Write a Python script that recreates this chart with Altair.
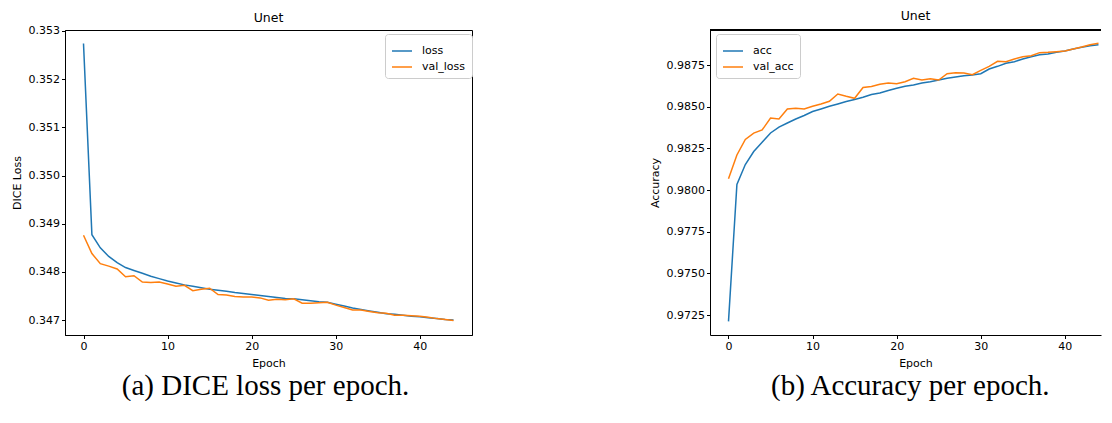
import altair as alt
import pandas as pd

epochs = list(range(45))

loss = [0.35274, 0.34877, 0.34850, 0.34832, 0.34819, 0.34809, 0.34803, 0.34797, 0.34791, 0.34786,
        0.34781, 0.34777, 0.34773, 0.34770, 0.34767, 0.34764, 0.34762, 0.34760, 0.34757, 0.34755,
        0.34753, 0.34751, 0.34749, 0.34747, 0.34745, 0.34744, 0.34742, 0.34740, 0.34738, 0.34737,
        0.34733, 0.34729, 0.34725, 0.34722, 0.34719, 0.34716, 0.34713, 0.34712, 0.34710, 0.34708,
        0.34707, 0.34705, 0.34703, 0.34701, 0.34700]

val_loss = [0.34876, 0.34838, 0.34817, 0.34812, 0.34806, 0.34790, 0.34792, 0.34779, 0.34778, 0.34779,
            0.34775, 0.34770, 0.34772, 0.34761, 0.34764, 0.34766, 0.34753, 0.34752, 0.34749, 0.34748,
            0.34748, 0.34746, 0.34741, 0.34743, 0.34742, 0.34744, 0.34735, 0.34735, 0.34736, 0.34737,
            0.34731, 0.34726, 0.34721, 0.34721, 0.34718, 0.34715, 0.34714, 0.34710, 0.34710, 0.34709,
            0.34708, 0.34706, 0.34703, 0.34701, 0.34699]

acc = [0.97212, 0.98033, 0.98153, 0.98231, 0.98287, 0.98342, 0.98377, 0.98402, 0.98426, 0.98447,
       0.98471, 0.98486, 0.98502, 0.98516, 0.98531, 0.98543, 0.98556, 0.98573, 0.98582, 0.98597,
       0.98610, 0.98622, 0.98630, 0.98642, 0.98650, 0.98660, 0.98670, 0.98678, 0.98686, 0.98690,
       0.98698, 0.98726, 0.98742, 0.98760, 0.98770, 0.98786, 0.98800, 0.98812, 0.98816, 0.98826,
       0.98834, 0.98846, 0.98856, 0.98866, 0.98872]

val_acc = [0.98067, 0.98210, 0.98303, 0.98341, 0.98360, 0.98432, 0.98426, 0.98486, 0.98490, 0.98486,
           0.98502, 0.98516, 0.98532, 0.98576, 0.98562, 0.98550, 0.98615, 0.98621, 0.98634, 0.98642,
           0.98638, 0.98650, 0.98670, 0.98660, 0.98668, 0.98660, 0.98698, 0.98704, 0.98702, 0.98692,
           0.98718, 0.98742, 0.98772, 0.98770, 0.98786, 0.98800, 0.98806, 0.98824, 0.98826, 0.98830,
           0.98834, 0.98846, 0.98858, 0.98872, 0.98880]

loss_ticks = [0.347, 0.348, 0.349, 0.350, 0.351, 0.352, 0.353]
acc_ticks = [0.9725, 0.9750, 0.9775, 0.9800, 0.9825, 0.9850, 0.9875]
epoch_ticks = [0, 10, 20, 30, 40]

FONT = "DejaVu Sans"
SERIF = "Liberation Serif"
BLUE = "#1f77b4"
ORANGE = "#ff7f0e"

RW = 391  # right plot width (cropped on the right as in the reference)


def long_df(a, b, na, nb):
    return pd.DataFrame({
        "epoch": epochs + epochs,
        "value": a + b,
        "series": [na] * len(a) + [nb] * len(b),
    })


loss_df = long_df(loss, val_loss, "loss", "val_loss")
acc_df = long_df(acc, val_acc, "acc", "val_acc")


def legend(lx, ly):
    return alt.Legend(
        title=None, orient="none", legendX=lx, legendY=ly, symbolType="stroke",
        symbolSize=400, symbolStrokeWidth=1.5, labelFont=FONT, labelFontSize=11,
        labelColor="black", labelOffset=9, fillColor="white", strokeColor="#cccccc",
        cornerRadius=3, padding=6, rowPadding=0,
    )


def unet_title(dx=0, offset=0):
    return alt.TitleParams("Unet", font=FONT, fontSize=12.5, fontWeight="normal", color="black",
                           offset=offset, anchor="middle", dx=dx)


def caption(text, dx):
    return alt.TitleParams(text, orient="bottom", anchor="middle", font=SERIF, fontSize=29,
                           fontWeight="normal", color="black", offset=3, dx=dx)


# ---------- left panel ----------
lxs = alt.Scale(domain=[-2.2, 46.2], nice=False, zero=False)
lys = alt.Scale(domain=[0.34669, 0.35302], nice=False, zero=False)

left_lines = alt.Chart(loss_df).mark_line(strokeWidth=1.5).encode(
    x=alt.X("epoch:Q", scale=lxs, axis=alt.Axis(values=epoch_ticks, format="d", title="Epoch")),
    y=alt.Y("value:Q", scale=lys, axis=alt.Axis(values=loss_ticks, format=".3f", title="DICE Loss")),
    color=alt.Color("series:N", scale=alt.Scale(domain=["loss", "val_loss"], range=[BLUE, ORANGE]),
                    legend=legend(320, 4)),
)

left_layer = alt.layer(left_lines).properties(width=407, height=305, title=unet_title())

left_panel = alt.vconcat(left_layer, title=caption("(a) DICE loss per epoch.", 24))

# ---------- right panel ----------
rxs = alt.Scale(domain=[-2.2, 44.3], nice=False, zero=False)
rys = alt.Scale(domain=[0.97130, 0.98960], nice=False, zero=False)

right_lines = alt.Chart(acc_df).mark_line(strokeWidth=1.5).encode(
    x=alt.X("epoch:Q", scale=rxs,
            axis=alt.Axis(values=epoch_ticks, format="d", title="Epoch", titleX=205.5,
                          titleAlign="center")),
    y=alt.Y("value:Q", scale=rys, axis=alt.Axis(values=acc_ticks, format=".4f", title="Accuracy")),
    color=alt.Color("series:N", scale=alt.Scale(domain=["acc", "val_acc"], range=[BLUE, ORANGE]),
                    legend=legend(6, 4)),
)

# top spine of the (cropped) right frame
right_spine = alt.Chart(acc_df).mark_rule(color="black", strokeWidth=1).encode(
    x=alt.value(0), x2=alt.value(RW), y=alt.value(0)
)

right_layer = alt.layer(right_lines, right_spine).properties(
    width=RW, height=305,
    view=alt.ViewBackground(stroke="transparent"),
    title=unet_title(10, 7),
)

right_panel = alt.vconcat(right_layer, title=caption("(b) Accuracy per epoch.", 35))

chart = alt.hconcat(left_panel, right_panel, spacing=175).resolve_scale(
    color="independent"
).properties(
    padding={"left": 2, "top": 1, "right": 0, "bottom": 0},
).configure_axis(
    grid=False, labelFont=FONT, labelFontSize=11, labelColor="black", tickColor="black",
    domainColor="black", domainWidth=1, tickWidth=1, tickSize=3.5, labelPadding=2,
    titleFont=FONT, titleFontSize=11, titleFontWeight="normal", titleColor="black",
    titlePadding=6,
).configure_view(stroke="black", strokeWidth=1)

chart.save("out.html", embed_options={"renderer": "svg", "actions": False})
